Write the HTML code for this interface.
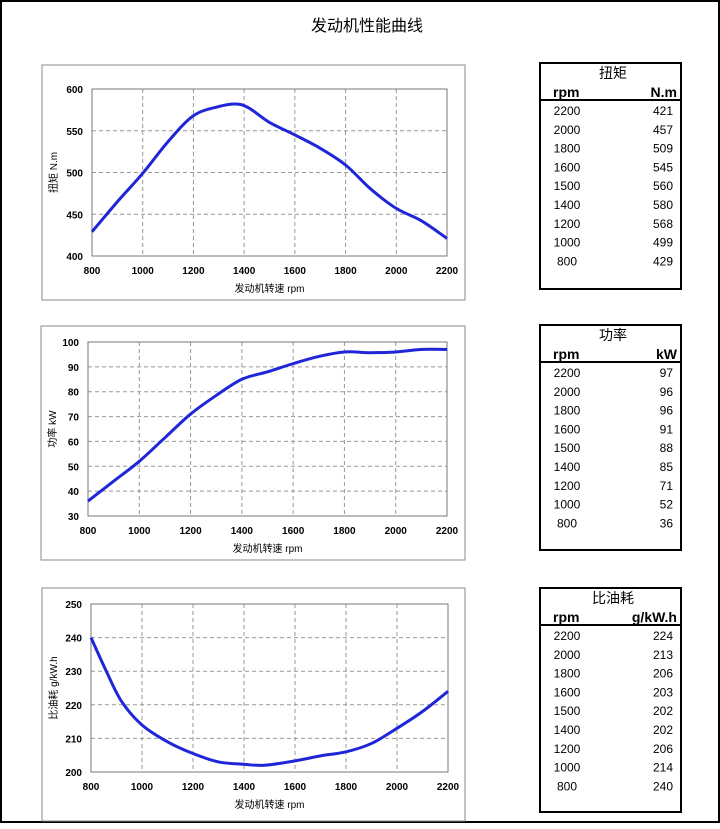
<!DOCTYPE html>
<html><head><meta charset="utf-8"><style>
body{margin:0;background:#fff;}
svg text{font-family:"Liberation Sans","Noto Sans CJK SC",sans-serif;}
</style></head><body>
<svg id="s" width="720" height="824" xmlns="http://www.w3.org/2000/svg">
<rect x="1" y="1" width="718" height="821" fill="none" stroke="#000" stroke-width="2"/>
<text x="367" y="31" font-size="16" text-anchor="middle">发动机性能曲线</text>
</svg>
<script>
const s=document.getElementById('s');const NS='http://www.w3.org/2000/svg';
function el(t,a,txt){const e=document.createElementNS(NS,t);for(const k in a)e.setAttribute(k,a[k]);if(txt!=null)e.textContent=txt;s.appendChild(e);return e;}
function chart(c){
 el('rect',{x:c.ox,y:c.oy,width:c.ow,height:c.oh,fill:'#fff',stroke:'#888','stroke-width':1});
 const X=v=>c.x0+(v-800)/1400*(c.x1-c.x0), Y=v=>c.y1-(v-c.ymin)/(c.ymax-c.ymin)*(c.y1-c.y0);
 for(let r=1000;r<2200;r+=200)el('line',{x1:X(r),x2:X(r),y1:c.y0,y2:c.y1,stroke:'#999','stroke-dasharray':'4,3','stroke-width':1});
 for(let v=c.ymin+c.step;v<c.ymax;v+=c.step)el('line',{x1:c.x0,x2:c.x1,y1:Y(v),y2:Y(v),stroke:'#999','stroke-dasharray':'4,3','stroke-width':1});
 el('rect',{x:c.x0,y:c.y0,width:c.x1-c.x0,height:c.y1-c.y0,fill:'none',stroke:'#777','stroke-width':1});
 for(let r=800;r<=2200;r+=200)el('text',{x:X(r),y:c.y1+18,'font-size':10,'font-weight':'bold','text-anchor':'middle'},r);
 for(let v=c.ymin;v<=c.ymax;v+=c.step)el('text',{x:c.x0-9,y:Y(v)+4,'font-size':10,'font-weight':'bold','text-anchor':'end'},v);
 el('text',{x:(c.x0+c.x1)/2,y:c.y1+36,'font-size':10,'text-anchor':'middle'},'发动机转速  rpm');
 const ly=(c.y0+c.y1)/2;el('text',{x:0,y:0,'font-size':10,'text-anchor':'middle',transform:`translate(${c.ox+15},${ly}) rotate(-90)`},c.yl);
 const p=c.d.map(([a,b])=>[X(a),Y(b)]);
 let d=`M${p[0][0]},${p[0][1]}`;
 for(let i=0;i<p.length-1;i++){const p0=p[i-1]||p[i],p1=p[i],p2=p[i+1],p3=p[i+2]||p2;
  d+=` C${p1[0]+(p2[0]-p0[0])/6},${p1[1]+(p2[1]-p0[1])/6} ${p2[0]-(p3[0]-p1[0])/6},${p2[1]-(p3[1]-p1[1])/6} ${p2[0]},${p2[1]}`;}
 el('path',{d,fill:'none',stroke:'#1f26d8','stroke-width':3,'stroke-linejoin':'round'});
 // table
 const t=c.t;el('rect',{x:540,y:t.y,width:141,height:t.h,fill:'none',stroke:'#000','stroke-width':2});
 el('text',{x:613,y:t.y+15,'font-size':14,'text-anchor':'middle'},t.title);
 el('text',{x:553,y:t.y+34,'font-size':14,'font-weight':'bold'},'rpm');
 el('text',{x:677,y:t.y+34,'font-size':14,'font-weight':'bold','text-anchor':'end'},t.unit);
 el('line',{x1:540,x2:681,y1:t.y+37,y2:t.y+37,stroke:'#000','stroke-width':2});
 const rp=[2200,2000,1800,1600,1500,1400,1200,1000,800];
 rp.forEach((r,i)=>{const y=t.y+52+i*18.8;
  el('text',{x:567,y,'font-size':12,'text-anchor':'middle'},r);
  el('text',{x:673,y,'font-size':12,'text-anchor':'end'},t.v[i]);});
}
chart({ox:42,oy:65,ow:423,oh:235,x0:92,x1:447,y0:89,y1:256,ymin:400,ymax:600,step:50,yl:'扭矩 N.m',
 d:[[800,429],[900,465],[1000,499],[1100,537],[1200,568],[1300,579],[1370,582],[1420,577],[1500,560],[1600,545],[1700,529],[1800,509],[1900,480],[2000,457],[2100,442],[2200,421]],
 t:{y:63,h:226,title:'扭矩',unit:'N.m',v:[421,457,509,545,560,580,568,499,429]}});
chart({ox:41,oy:326,ow:424,oh:234,x0:88,x1:447,y0:342,y1:516,ymin:30,ymax:100,step:10,yl:'功率  kW',
 d:[[800,36],[900,44],[1000,52],[1100,61.5],[1200,71],[1300,78.5],[1400,85],[1500,88],[1600,91.3],[1700,94.2],[1800,96],[1900,95.7],[2000,96],[2100,97],[2200,97]],
 t:{y:325,h:225,title:'功率',unit:'kW',v:[97,96,96,91,88,85,71,52,36]}});
chart({ox:42,oy:588,ow:423,oh:233,x0:91,x1:448,y0:604,y1:772,ymin:200,ymax:250,step:10,yl:'比油耗  g/kW.h',
 d:[[800,240],[860,230],[920,221],[1000,214],[1100,209],[1200,205.5],[1300,203],[1400,202.3],[1480,202],[1600,203.3],[1700,204.8],[1800,206],[1900,208.5],[2000,213],[2100,218],[2200,224]],
 t:{y:588,h:224,title:'比油耗',unit:'g/kW.h',v:[224,213,206,203,202,202,206,214,240]}});
</script>
</body></html>
